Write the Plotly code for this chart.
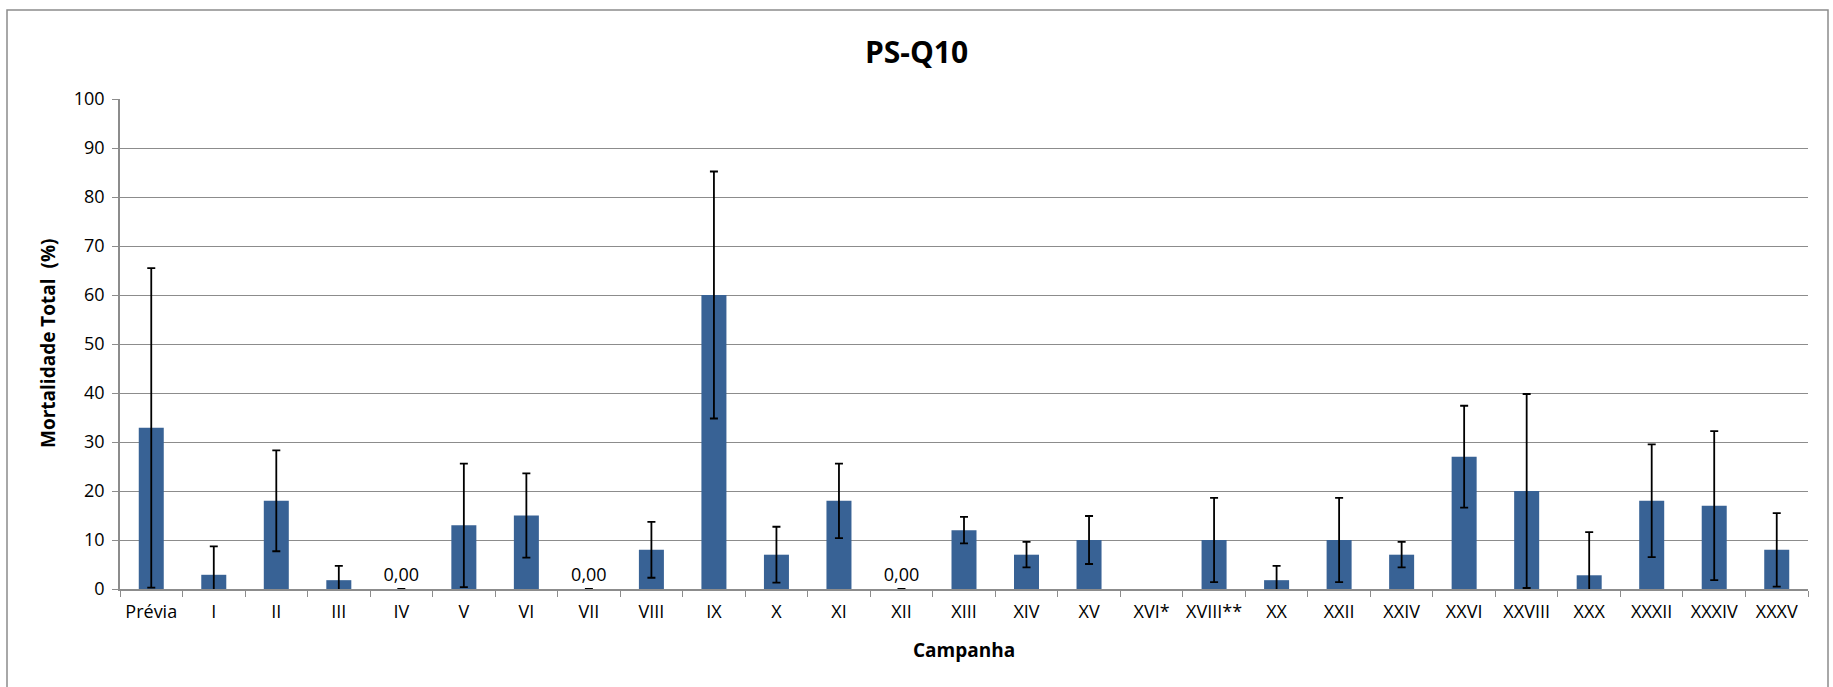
import plotly.graph_objects as go

categories = ["Prévia", "I", "II", "III", "IV", "V", "VI", "VII", "VIII", "IX", "X", "XI", "XII",
              "XIII", "XIV", "XV", "XVI*", "XVIII**", "XX", "XXII", "XXIV", "XXVI", "XXVIII",
              "XXX", "XXXII", "XXXIV", "XXXV"]
mortality = [32.9, 2.9, 18.0, 1.8, 0.0, 13.0, 15.0, 0.0, 8.0, 60.0, 7.0, 18.0, 0.0,
             12.0, 7.0, 10.0, None, 10.0, 1.8, 10.0, 7.0, 27.0, 20.0,
             2.8, 18.0, 17.0, 8.0]
error = [32.6, 5.8, 10.3, 2.9, None, 12.6, 8.6, None, 5.7, 25.2, 5.7, 7.6, None,
         2.7, 2.6, 4.9, None, 8.6, 2.9, 8.6, 2.6, 10.4, 19.8,
         8.8, 11.5, 15.2, 7.5]
labels = ["0,00" if v == 0 else "" for v in mortality]
y_ticks = list(range(0, 101, 10))

FONT = "Open Sans"
BAR = "#386295"
W, H = 1833, 687
L, R, T, B = 120, 25, 99, 98
pw, ph = W - L - R, H - T - B

bar_colors = ["rgba(0,0,0,0)" if v == 0 else BAR for v in mortality]

fig = go.Figure()
fig.add_trace(go.Bar(
    x=categories, y=mortality,
    marker=dict(color=bar_colors, line=dict(width=0)),
    error_y=dict(type="data", array=error, visible=True, color="black",
                 thickness=1.8, width=4),
    text=labels, textposition="outside", cliponaxis=False, constraintext="none",
    textfont=dict(family=FONT, size=18, color="black"),
    hoverinfo="skip",
))

fig.update_layout(
    width=W, height=H, autosize=False,
    margin=dict(l=L, r=R, t=T, b=B),
    paper_bgcolor="white", plot_bgcolor="white",
    showlegend=False, bargap=0.6,
    title=dict(text="<b>PS-Q10</b>", x=0.5, xanchor="center", xref="container",
               y=1 - 52 / H, yanchor="middle", yref="container",
               font=dict(family=FONT, size=30, color="black")),
    xaxis=dict(type="category", tickson="boundaries", ticks="outside", ticklen=6,
               tickcolor="#8C8C8C", showline=True, linecolor="#8C8C8C", linewidth=1.5,
               showgrid=False, tickfont=dict(family=FONT, size=18, color="black"),
               tickangle=0, ticklabelstandoff=6, range=[-0.5, len(categories) - 0.5]),
    yaxis=dict(range=[0, 100], tickvals=y_ticks, ticks="outside", ticklen=6,
               tickcolor="#8C8C8C", showline=True, linecolor="#8C8C8C", linewidth=1.5,
               showgrid=True, gridcolor="#8C8C8C", gridwidth=1.2, zeroline=False,
               tickfont=dict(family=FONT, size=18, color="black"), ticklabelstandoff=4),
    annotations=[
        dict(text="<b>Mortalidade Total  (%)</b>", xref="paper", yref="paper",
             x=(48 - L) / pw, y=0.5, textangle=-90, showarrow=False,
             xanchor="center", yanchor="middle",
             font=dict(family=FONT, size=19, color="black")),
        dict(text="<b>Campanha</b>", xref="paper", yref="paper",
             x=0.5, y=-(650 - (H - B)) / ph, showarrow=False,
             xanchor="center", yanchor="middle",
             font=dict(family=FONT, size=19, color="black")),
    ],
    shapes=[dict(type="rect", xref="paper", yref="paper",
                 x0=(7 - L) / pw, x1=(1828 - L) / pw,
                 y0=-(690 - (H - B)) / ph, y1=(H - B - 10) / ph,
                 line=dict(color="#8C8C8C", width=1.5), fillcolor="rgba(0,0,0,0)",
                 layer="below")],
)

fig.write_html("out.html", config={"displayModeBar": False},
               post_script="document.body.style.margin='0px';document.body.style.overflow='hidden';")
